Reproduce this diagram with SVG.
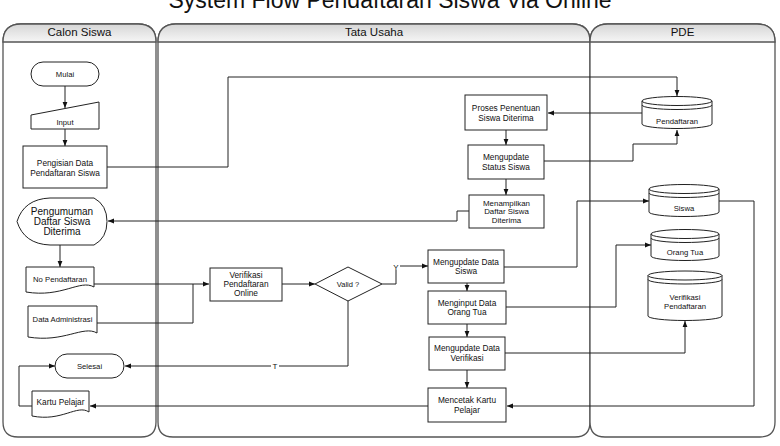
<svg xmlns="http://www.w3.org/2000/svg" width="780" height="446" viewBox="0 0 780 446">
<style>
text{font-family:"Liberation Sans",Arial,sans-serif;fill:#111;text-anchor:middle}
.lane{fill:#fff;stroke:#555;stroke-width:1.3}
.hdr{fill:url(#hg);stroke:#555;stroke-width:1.3}
.ht{font-size:11.5px}
.n{fill:#fff;stroke:#222;stroke-width:1}
.t85{font-size:8.3px}
.t8{font-size:7.9px}
.t77{font-size:7.7px}
.t10{font-size:10px}
.c{fill:none;stroke:#222;stroke-width:1}
.ca{fill:none;stroke:#222;stroke-width:1;marker-end:url(#ah)}
</style>
<defs>
<linearGradient id="hg" x1="0" y1="0" x2="0" y2="1">
<stop offset="0" stop-color="#d6d6d6"/>
<stop offset="1" stop-color="#f6f6f6"/>
</linearGradient>
<marker id="ah" viewBox="0 0 6 6" refX="6" refY="3" markerWidth="6" markerHeight="6" orient="auto" markerUnits="userSpaceOnUse">
<path d="M0,0.6 L6,3 L0,5.4 Z" fill="#111"/>
</marker>
</defs>

<text x="390" y="8" style="font-size:23px">System Flow Pendaftaran Siswa Via Online</text>

<g id="lane-calon">
<path class="lane" d="M3,42 Q3,24 21,24 H138 Q156,24 156,42 V422 Q156,437 141,437 H18 Q3,437 3,422 Z"/>
<path class="hdr" d="M3,42 Q3,24 21,24 H138 Q156,24 156,42 Z"/>
<text class="ht" x="79.5" y="36">Calon Siswa</text>
</g>
<g id="lane-tu">
<path class="lane" d="M158,42 Q158,24 176,24 H572 Q590,24 590,42 V422 Q590,437 575,437 H173 Q158,437 158,422 Z"/>
<path class="hdr" d="M158,42 Q158,24 176,24 H572 Q590,24 590,42 Z"/>
<text class="ht" x="374" y="36">Tata Usaha</text>
</g>
<g id="lane-pde">
<path class="lane" d="M590,42 Q590,24 608,24 H757 Q775,24 775,42 V422 Q775,437 760,437 H605 Q590,437 590,422 Z"/>
<path class="hdr" d="M590,42 Q590,24 608,24 H757 Q775,24 775,42 Z"/>
<text class="ht" x="682.5" y="36">PDE</text>
</g>

<g id="connectors">
<path class="ca" d="M65,86 V108"/>
<path class="ca" d="M65,129 V146"/>
<path class="ca" d="M107,167 H228 V77 H677 V96"/>
<path class="ca" d="M642,113 H548"/>
<path class="ca" d="M506,130 V145"/>
<path class="ca" d="M544,161 H633 V144 H677 V130"/>
<path class="ca" d="M506,179 V195"/>
<path class="ca" d="M469,211 H457 V221 H108"/>
<path class="ca" d="M60,245 V267"/>
<path class="ca" d="M94,284 H209"/>
<path class="c" d="M97,323 H193 V284"/>
<path class="ca" d="M282,284 H315"/>
<path class="c" d="M382,284 H396 V270"/>
<path class="ca" d="M400,266 H428"/>
<path class="ca" d="M348,301 V366 H125"/>
<path class="ca" d="M467,283 V291"/>
<path class="ca" d="M467,324 V337"/>
<path class="ca" d="M467,370 V388"/>
<path class="ca" d="M504,267 H577 V201 H649"/>
<path class="ca" d="M719,201 H754 V406 H507"/>
<path class="ca" d="M506,307 H616 V245 H651"/>
<path class="ca" d="M505,353 H685 V321"/>
<path class="ca" d="M428,406 H90"/>
<path class="ca" d="M32,406 H19 V366 H55"/>
<text x="396" y="270" style="font-size:8px">Y</text>
<rect x="271" y="362" width="8" height="8" fill="#fff"/>
<text x="275" y="369" style="font-size:8px">T</text>
</g>

<g id="mulai">
<rect class="n" x="31" y="62" width="68" height="24" rx="12"/>
<text class="t77" x="65" y="77">Mulai</text>
</g>
<g id="input">
<path class="n" d="M31,115 L99,102 V129 H31 Z"/>
<text class="t77" x="65" y="125">Input</text>
</g>
<g id="pengisian">
<rect class="n" x="23" y="146" width="84" height="42"/>
<text class="t85" x="65" y="166">Pengisian Data</text>
<text class="t85" x="65" y="176">Pendaftaran Siswa</text>
</g>
<g id="pengumuman">
<path class="n" d="M17,221.5 Q24,199 50,198 H94 Q107,205 107,221.5 Q107,238 94,245 H50 Q24,244 17,221.5 Z"/>
<text class="t10" x="62" y="215">Pengumuman</text>
<text class="t10" x="62" y="225">Daftar Siswa</text>
<text class="t10" x="62" y="235">Diterima</text>
</g>
<g id="no-pendaftaran">
<path class="n" d="M26,267 H94 V287 C80,279 62,298 26,292 Z"/>
<text class="t77" x="60" y="282">No Pendaftaran</text>
</g>
<g id="data-administrasi">
<path class="n" d="M28,306 H97 V333 C83,325 64,343 28,337 Z"/>
<text class="t77" x="62.5" y="322">Data Administrasi</text>
</g>
<g id="selesai">
<rect class="n" x="55" y="354" width="69" height="24" rx="12"/>
<text class="t77" x="89.5" y="369">Selesai</text>
</g>
<g id="kartu-pelajar">
<path class="n" d="M32,391 H89 V412 C77,404 62,422 32,416 Z"/>
<text class="t85" x="60.5" y="405">Kartu Pelajar</text>
</g>

<g id="verifikasi-online">
<rect class="n" x="210" y="268" width="72" height="33"/>
<text class="t85" x="246" y="278">Verifikasi</text>
<text class="t85" x="246" y="287">Pendaftaran</text>
<text class="t85" x="246" y="296">Online</text>
</g>
<g id="valid">
<path class="n" d="M315,284 L348,267 L382,284 L348,301 Z"/>
<text style="font-size:7.5px" x="348" y="287">Valid ?</text>
</g>
<g id="proses-penentuan">
<rect class="n" x="465" y="95" width="82" height="35"/>
<text class="t85" x="506" y="111">Proses Penentuan</text>
<text class="t85" x="506" y="120.5">Siswa Diterima</text>
</g>
<g id="update-status">
<rect class="n" x="468" y="145" width="76" height="34"/>
<text class="t85" x="506" y="160">Mengupdate</text>
<text class="t85" x="506" y="169.5">Status Siswa</text>
</g>
<g id="menampilkan">
<rect class="n" x="469" y="195" width="75" height="33"/>
<text class="t8" x="506.5" y="205.5">Menampilkan</text>
<text class="t8" x="506.5" y="214">Daftar Siswa</text>
<text class="t8" x="506.5" y="222.5">Diterima</text>
</g>
<g id="update-siswa">
<rect class="n" x="428" y="250" width="76" height="33"/>
<text class="t85" x="466" y="264.5">Mengupdate Data</text>
<text class="t85" x="466" y="274">Siswa</text>
</g>
<g id="input-ortu">
<rect class="n" x="428" y="291" width="78" height="33"/>
<text class="t85" x="467" y="305.5">Menginput Data</text>
<text class="t85" x="467" y="315">Orang Tua</text>
</g>
<g id="update-verifikasi">
<rect class="n" x="429" y="337" width="76" height="33"/>
<text class="t85" x="467" y="351">Mengupdate Data</text>
<text class="t85" x="467" y="360.5">Verifikasi</text>
</g>
<g id="mencetak">
<rect class="n" x="428" y="388" width="78" height="34"/>
<text class="t85" x="467" y="403">Mencetak Kartu</text>
<text class="t85" x="467" y="412.5">Pelajar</text>
</g>

<g id="db-pendaftaran">
<path class="n" d="M642,101 A35,4.5 0 0 1 712,101 V124 A35,4.5 0 0 1 642,124 Z"/>
<path class="c" d="M642,101 A35,4.5 0 0 0 712,101"/>
<path class="c" d="M642,105 A35,4.5 0 0 0 712,105"/>
<text class="t77" x="677" y="124">Pendaftaran</text>
</g>
<g id="db-siswa">
<path class="n" d="M649,189 A35,4.5 0 0 1 719,189 V212 A35,4.5 0 0 1 649,212 Z"/>
<path class="c" d="M649,189 A35,4.5 0 0 0 719,189"/>
<path class="c" d="M649,193 A35,4.5 0 0 0 719,193"/>
<text class="t77" x="684" y="211">Siswa</text>
</g>
<g id="db-ortu">
<path class="n" d="M651,234 A34,4.5 0 0 1 719,234 V256 A34,4.5 0 0 1 651,256 Z"/>
<path class="c" d="M651,234 A34,4.5 0 0 0 719,234"/>
<path class="c" d="M651,238 A34,4.5 0 0 0 719,238"/>
<text class="t77" x="685" y="255">Orang Tua</text>
</g>
<g id="db-verifikasi">
<path class="n" d="M648,275.5 A37,4.5 0 0 1 722,275.5 V316 A37,4.5 0 0 1 648,316 Z"/>
<path class="c" d="M648,275.5 A37,4.5 0 0 0 722,275.5"/>
<path class="c" d="M648,279.5 A37,4.5 0 0 0 722,279.5"/>
<text class="t77" x="685" y="300">Verifikasi</text>
<text class="t77" x="685" y="309">Pendaftaran</text>
</g>
</svg>
